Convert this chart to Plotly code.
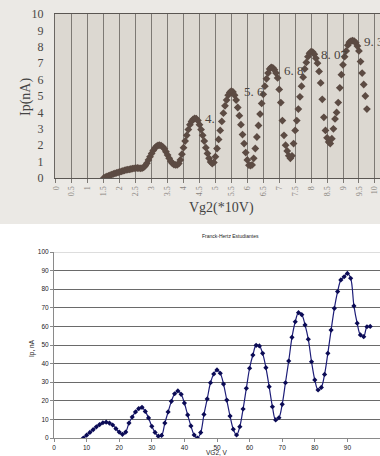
import plotly.graph_objects as go

# ---------------- data: top (scanned) chart ----------------
# Ip (nA) sampled every 0.05 (x10 V) starting at Vg2 = 1.5 (x10 V)
top_start = 1.5
top_step = 0.05
ip_top = [
    0.00, 0.05, 0.09, 0.13, 0.17, 0.21, 0.25, 0.28, 0.31, 0.34,
    0.37, 0.40, 0.43, 0.46, 0.49, 0.51, 0.53, 0.55, 0.57, 0.59,
    0.60, 0.61, 0.60, 0.59, 0.60, 0.65, 0.75, 0.90, 1.10, 1.30,
    1.50, 1.68, 1.82, 1.93, 1.99, 2.00, 1.97, 1.90, 1.78, 1.60,
    1.40, 1.20, 1.02, 0.90, 0.82, 0.80, 0.80,
    0.88, 1.10, 1.45, 1.85, 2.25, 2.60, 2.95, 3.25, 3.45,
    3.58, 3.64, 3.62, 3.50, 3.25, 2.95, 2.60, 2.25, 1.85, 1.50,
    1.20, 0.98, 0.88, 0.95, 1.30, 1.80, 2.35, 2.90, 3.45, 3.95,
    4.40, 4.75, 5.05, 5.22, 5.30, 5.25, 5.05, 4.75, 4.30, 3.80,
    3.25, 2.65, 2.10, 1.55, 1.10, 0.78, 0.76,
    0.80, 1.20, 1.80, 2.50, 3.20, 3.90, 4.55, 5.10, 5.60, 6.05,
    6.40, 6.65, 6.75, 6.72, 6.60, 6.40, 6.10, 5.40, 4.60, 3.50,
    2.60, 2.00, 1.65, 1.35, 1.20, 1.35, 2.10, 2.90, 3.50, 4.20,
    4.95, 5.60, 6.15, 6.65, 7.05, 7.40, 7.60, 7.70, 7.68, 7.55,
    7.30, 7.00, 6.50, 5.80, 4.80, 3.70, 2.90, 2.45, 2.20, 2.10,
    2.40, 3.00, 3.60, 4.00, 4.60, 5.50, 6.30, 6.90, 7.40, 7.75,
    8.10, 8.28, 8.35, 8.38, 8.35, 8.25, 8.05, 7.75, 7.10, 6.40,
    5.70, 5.00, 4.20,
]
vg2_top = [round(top_start + top_step * i, 2) for i in range(len(ip_top))]

top_tick_vals = [0, 0.5, 1, 1.5, 2, 2.5, 3, 3.5, 4, 4.5, 5, 5.5, 6, 6.5, 7,
                 7.5, 8, 8.5, 9, 9.5, 10]
top_tick_text = ["0", "0.5", "1", "1.5", "2", "2.5", "3", "3.5", "4", "4.5",
                 "5", "5.5", "6", "6.5", "7", "7.5", "8", "8.5", "9", "9.5", "10"]

peak_labels = ["4.", "5. 6", "6. 8", "8. 07", "9. 3"]
peak_label_x = [4.62, 5.84, 7.08, 8.26, 9.6]
peak_label_y = [3.6, 5.26, 6.55, 7.56, 8.3]

# ---------------- data: bottom chart ----------------
v_bottom = list(range(9, 98))
ip_bottom = [
    0, 1.5, 3, 4.5, 6, 7.2, 8.2, 8.5, 8, 7,
    5, 3.2, 2, 3.2, 8, 11.3, 14, 15.8, 16.5, 14.3,
    10.8, 6.3, 3, 1, 1.4, 8, 14, 19.7, 23.8, 25.3,
    23.5, 18.8, 12.4, 6.5, 1.6, 0, 2.9, 12.7, 21, 29.7,
    34.4, 36.6, 34.8, 29, 20.4, 11.8, 4.7, 1.6, 6.1, 15.6,
    26.7, 37.5, 44.6, 49.8, 49.5, 45.5, 37.8, 27.6, 16.8, 9.7,
    10.9, 18.1, 29.7, 41.4, 54.1, 62.5, 67.4, 66.3, 60.8, 53.1,
    41, 31.2, 25.8, 27.2, 34.2, 45.5, 58, 69.7, 78.7, 85,
    86.7, 88.5, 85.9, 71, 61.7, 55.4, 54.5, 59.8, 60,
]

W, H = 380, 456

def px_x(p):
    return p / W

def px_y(p):
    return 1 - p / H

fig = go.Figure()

fig.add_trace(go.Scatter(
    x=vg2_top, y=ip_top, mode="markers",
    marker=dict(symbol="diamond", size=6, color="#5c4b43"),
    xaxis="x", yaxis="y", showlegend=False, hoverinfo="skip",
))

fig.add_trace(go.Scatter(
    x=v_bottom, y=ip_bottom, mode="lines+markers",
    line=dict(shape="spline", color="#1d1d78", width=1.2),
    marker=dict(symbol="diamond", size=4, color="#0b0b55"),
    xaxis="x2", yaxis="y2", showlegend=False, hoverinfo="skip",
))

serif = "Liberation Serif, DejaVu Serif, serif"
sans = "Liberation Sans, Arial, sans-serif"

top_x_range = [-0.03, 10.16]

fig.update_layout(
    width=W, height=H,
    margin=dict(l=0, r=0, t=0, b=0, autoexpand=False),
    paper_bgcolor="white",
    plot_bgcolor="rgba(0,0,0,0)",
    xaxis=dict(
        domain=[px_x(55), 1.0], anchor="y", range=top_x_range,
        tickvals=top_tick_vals, ticktext=top_tick_text, tickangle=-90,
        tickfont=dict(family=serif, size=8, color="#8a8580"),
        showgrid=True, gridcolor="#7d7974", gridwidth=1,
        showline=True, linecolor="#5a5652", linewidth=1, mirror=True,
        ticks="outside", ticklen=4, tickcolor="#7d7974",
        zeroline=False, automargin=False,
    ),
    yaxis=dict(
        domain=[px_y(178), px_y(14)], anchor="x", range=[0, 10],
        tickvals=list(range(0, 11)),
        tickfont=dict(family=serif, size=12, color="#4a4744"),
        showgrid=False, showline=True, linecolor="#6a6662", linewidth=1,
        ticks="", ticklabelstandoff=8, zeroline=False, automargin=False,
    ),
    xaxis2=dict(
        domain=[px_x(54), 1.0], anchor="y2", range=[0, 100],
        tickvals=list(range(0, 101, 10)),
        tickfont=dict(family=sans, size=6.5, color="#222"),
        showgrid=False, showline=True, linecolor="#8a8a8a", linewidth=1,
        ticks="outside", ticklen=3, tickcolor="#8a8a8a",
        zeroline=False, automargin=False,
    ),
    yaxis2=dict(
        domain=[px_y(438), px_y(252)], anchor="x2", range=[0, 100],
        tickvals=list(range(0, 101, 10)),
        tickfont=dict(family=sans, size=6.5, color="#222"),
        showgrid=True, gridcolor="#6a6a6a", gridwidth=1,
        showline=True, linecolor="#8a8a8a", linewidth=1,
        ticks="outside", ticklen=3, tickcolor="#8a8a8a",
        zeroline=False, automargin=False,
    ),
    shapes=[
        dict(type="rect", xref="paper", yref="paper", x0=0, x1=1,
             y0=px_y(224), y1=1, fillcolor="#ebe9e5", line=dict(width=0),
             layer="below"),
        dict(type="rect", xref="x", yref="y", x0=top_x_range[0], x1=top_x_range[1],
             y0=0, y1=10, fillcolor="#dcd8d1", line=dict(width=0), layer="below"),
        dict(type="line", xref="x2", yref="y2", x0=0, x1=100, y0=100, y1=100,
             line=dict(color="#d2d2d2", width=1.5), layer="between"),
    ],
    annotations=[
        dict(text="Ip(nA)", xref="paper", yref="paper", x=px_x(26), y=px_y(97),
             xanchor="center", yanchor="middle", textangle=-90, showarrow=False,
             font=dict(family=serif, size=14, color="#444")),
        dict(text="Vg2(*10V)", xref="paper", yref="paper", x=px_x(221), y=px_y(208),
             xanchor="center", yanchor="middle", showarrow=False,
             font=dict(family=serif, size=14, color="#444")),
        dict(text="Franck-Hertz Estudiantes", xref="paper", yref="paper",
             x=px_x(230), y=px_y(236), xanchor="center", yanchor="middle",
             showarrow=False, font=dict(family=sans, size=5, color="#222")),
        dict(text="Ip, nA", xref="paper", yref="paper", x=px_x(32), y=px_y(348),
             xanchor="center", yanchor="middle", textangle=-90, showarrow=False,
             font=dict(family=sans, size=6.5, color="#222")),
        dict(text="VG2, V", xref="paper", yref="paper", x=px_x(217), y=px_y(452.5),
             xanchor="center", yanchor="middle", showarrow=False,
             font=dict(family=sans, size=6.5, color="#222")),
    ] + [
        dict(text=t, xref="x", yref="y", x=lx, y=ly, xanchor="left",
             yanchor="middle", showarrow=False,
             font=dict(family=serif, size=13, color="#4a4440"))
        for t, lx, ly in zip(peak_labels, peak_label_x, peak_label_y)
    ],
)

fig.write_html(
    "out.html",
    config={"displayModeBar": False, "staticPlot": True},
    post_script="document.body.style.margin='0';document.body.style.overflow='hidden';",
)
